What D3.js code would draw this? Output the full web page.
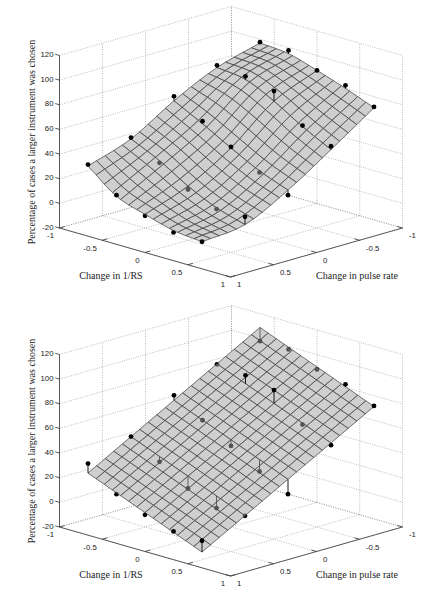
<!DOCTYPE html>
<html>
<head>
<meta charset="utf-8">
<script src="https://cdn.jsdelivr.net/npm/d3@7"></script>
<style>
  body { margin: 0; background: #fff; }
</style>
</head>
<body>
<script>
// design grid of the experiment
const rsValues = [-2 / 3, -1 / 3, 0, 1 / 3, 2 / 3];   // change in 1/RS (columns)
const pulseValues = [1, 0.5, 0, -0.5, -1];          // change in pulse rate (rows)

// observed percentage at each design point (rows = pulseValues, cols = rsValues)
const observed = [
  [38.1, 19.9, 9.8, 2.9, 2.0],
  [50.1, 36.2, 21.2, 11.9, 12.3],
  [73.6, 60.0, 45.8, 31.7, 19.9],
  [88.8, 86.5, 81.2, 59.8, 49.7],
  [97.7, 97.6, 88.0, 82.5, 71.6]
];

// fitted surface heights at the design points
const sigmoidFit = [
  [37, 19, 11, 4.5, 2],
  [49, 38, 24, 13, 6],
  [70, 58, 45, 33, 24],
  [87, 84, 73, 59, 47],
  [97, 95, 88, 80, 71]
];
const planeFit = [
  [30.4, 21.0, 11.6, 2.2, -7.2],
  [50.0, 40.6, 31.2, 21.8, 12.4],
  [69.6, 60.2, 50.8, 41.4, 32.0],
  [89.2, 79.8, 70.4, 61.0, 51.6],
  [108.8, 99.4, 90.0, 80.6, 71.2]
];

const xTicks = [-1, -0.5, 0, 0.5, 1];
const yTicks = [1, 0.5, 0, -0.5, -1];
const zTicks = [-20, 0, 20, 40, 60, 80, 100, 120];

const zLabel = "Percentage of cases a larger instrument was chosen";
const xLabel = "Change in 1/RS";
const yLabel = "Change in pulse rate";

const width = 431, height = 600;
const meshX = 14, meshY = 20;   // mesh cells drawn on the surface

const svg = d3.select("body").append("svg")
  .attr("width", width)
  .attr("height", height);

// screen offsets of the three data axes (3D -> 2D)
const sxX = d3.scaleLinear([-1, 1], [-85.5, 85.5]);
const syX = d3.scaleLinear([-1, 1], [-24.5, 24.5]);
const sxY = d3.scaleLinear([-1, 1], [86, -86]);
const syY = d3.scaleLinear([-1, 1], [-24.5, 24.5]);
const sz = d3.scaleLinear([-20, 120], [0, -172.5]);

// smooth catmull-rom sampling of a short row of values at fractional index u
function sampleRow(v, u) {
  const n = v.length;
  const i = Math.min(Math.floor(u), n - 2);
  const t = u - i;
  const p0 = i > 0 ? v[i - 1] : 2 * v[0] - v[1];
  const p1 = v[i], p2 = v[i + 1];
  const p3 = i + 2 < n ? v[i + 2] : 2 * v[n - 1] - v[n - 2];
  return 0.5 * (2 * p1 + (-p0 + p2) * t +
    (2 * p0 - 5 * p1 + 4 * p2 - p3) * t * t +
    (-p0 + 3 * p1 - 3 * p2 + p3) * t * t * t);
}

function drawPanel(fit, cx, cy) {
  const project = (x, y, z) => [cx + sxX(x) + sxY(y), cy + syX(x) + syY(y) + sz(z)];
  const line = pts => "M" + pts.map(p => project(...p).join(",")).join("L");

  const g = svg.append("g");

  // dotted grid on floor and the two back walls
  const grid = [];
  xTicks.forEach(t => {
    grid.push([[t, 1, -20], [t, -1, -20]]);
    grid.push([[t, -1, -20], [t, -1, 120]]);
  });
  yTicks.forEach(t => {
    grid.push([[-1, t, -20], [1, t, -20]]);
    grid.push([[-1, t, -20], [-1, t, 120]]);
  });
  zTicks.forEach(t => {
    grid.push([[-1, 1, t], [-1, -1, t]]);
    grid.push([[-1, -1, t], [1, -1, t]]);
  });
  g.append("g")
    .attr("fill", "none")
    .attr("stroke", "#8c8c8c")
    .attr("stroke-width", 0.6)
    .attr("stroke-dasharray", "1,1.4")
    .selectAll("path")
    .data(grid)
    .join("path")
    .attr("d", line);

  // axis lines
  g.append("g")
    .attr("fill", "none")
    .attr("stroke", "#333")
    .attr("stroke-width", 0.8)
    .selectAll("path")
    .data([
      [[-1, 1, -20], [1, 1, -20]],
      [[1, 1, -20], [1, -1, -20]],
      [[-1, 1, -20], [-1, 1, 120]]
    ])
    .join("path")
    .attr("d", line);

  // tick marks
  const ticks = [];
  xTicks.forEach(t => ticks.push([[t, 1, -20], [t, 0.94, -20]]));
  yTicks.forEach(t => ticks.push([[1, t, -20], [0.94, t, -20]]));
  zTicks.forEach(t => ticks.push([[-1, 1, t], [-1.05, 1, t]]));
  g.append("g")
    .attr("stroke", "#333")
    .attr("stroke-width", 0.8)
    .selectAll("path")
    .data(ticks)
    .join("path")
    .attr("d", line);

  // tick labels
  const tickText = g.append("g")
    .attr("font-family", "'Liberation Sans', Arial, sans-serif")
    .attr("font-size", 7.8)
    .attr("fill", "#1a1a1a");
  tickText.selectAll(".zt")
    .data(zTicks)
    .join("text")
    .attr("text-anchor", "end")
    .attr("x", d => project(-1, 1, d)[0] - 6)
    .attr("y", d => project(-1, 1, d)[1] + 1.5)
    .text(d => d);
  tickText.selectAll(".xt")
    .data(xTicks)
    .join("text")
    .attr("text-anchor", "end")
    .attr("x", d => project(d, 1, -20)[0] - 5.5)
    .attr("y", d => project(d, 1, -20)[1] + 10.4)
    .text(d => d);
  tickText.selectAll(".yt")
    .data(yTicks)
    .join("text")
    .attr("text-anchor", "start")
    .attr("x", d => project(1, d, -20)[0] + 6.5)
    .attr("y", d => project(1, d, -20)[1] + 10.4)
    .text(d => d);

  // axis titles
  const titles = g.append("g")
    .attr("font-family", "'Liberation Serif', 'Times New Roman', serif")
    .attr("font-size", 10)
    .attr("fill", "#222")
    .attr("text-anchor", "middle");
  titles.append("text")
    .attr("transform", `translate(35,${cy - 86}) rotate(-90)`)
    .text(zLabel);
  titles.append("text")
    .attr("x", 111).attr("y", cy + 50.5)
    .text(xLabel);
  titles.append("text")
    .attr("x", 357).attr("y", cy + 50.5)
    .text(yLabel);

  // surface mesh nodes
  const rowsAtX = fit.map(row => d3.range(meshX + 1).map(j => sampleRow(row, j * 4 / meshX)));
  const nodes = d3.range(meshY + 1).map(i => {
    const u = i * 4 / meshY;
    return d3.range(meshX + 1).map(j => {
      const col = rowsAtX.map(r => r[j]);
      const x = rsValues[0] + (rsValues[4] - rsValues[0]) * j / meshX;
      const y = pulseValues[0] + (pulseValues[4] - pulseValues[0]) * i / meshY;
      return [x, y, sampleRow(col, u)];
    });
  });
  const quads = [];
  for (let i = 0; i < meshY; i++) {
    for (let j = 0; j < meshX; j++) {
      const pts = [nodes[i][j], nodes[i][j + 1], nodes[i + 1][j + 1], nodes[i + 1][j]];
      quads.push({ pts, depth: d3.mean(pts, p => p[0] + p[1]) });
    }
  }
  quads.sort((a, b) => a.depth - b.depth);
  const quadPath = q => line(q.pts) + "Z";

  // data points with stems to the fitted surface
  const points = [];
  pulseValues.forEach((y, i) => rsValues.forEach((x, j) => {
    points.push({ x, y, z: observed[i][j], fitZ: fit[i][j], below: observed[i][j] < fit[i][j] });
  }));

  const drawPoints = (sel, data) => {
    sel.selectAll("path")
      .data(data)
      .join("path")
      .attr("stroke", "#000")
      .attr("stroke-width", 0.9)
      .attr("d", d => line([[d.x, d.y, d.z], [d.x, d.y, d.fitZ]]));
    sel.selectAll("circle")
      .data(data)
      .join("circle")
      .attr("fill", "#000")
      .attr("r", 2.4)
      .attr("cx", d => project(d.x, d.y, d.z)[0])
      .attr("cy", d => project(d.x, d.y, d.z)[1]);
  };

  // opaque base of the surface hides the grid behind it
  g.append("g")
    .selectAll("path")
    .data(quads)
    .join("path")
    .attr("fill", "#cfcfcf")
    .attr("stroke", "#cfcfcf")
    .attr("stroke-width", 0.6)
    .attr("d", quadPath);

  drawPoints(g.append("g"), points.filter(d => d.below));

  // translucent face + mesh so points below still show through
  g.append("g")
    .selectAll("path")
    .data(quads)
    .join("path")
    .attr("fill", "#cfcfcf")
    .attr("fill-opacity", 0.4)
    .attr("stroke", "#474747")
    .attr("stroke-width", 0.7)
    .attr("stroke-linejoin", "round")
    .attr("d", quadPath);

  drawPoints(g.append("g"), points.filter(d => !d.below));
}

drawPanel(sigmoidFit, 231, 228);
drawPanel(planeFit, 231, 527);
</script>
</body>
</html>
